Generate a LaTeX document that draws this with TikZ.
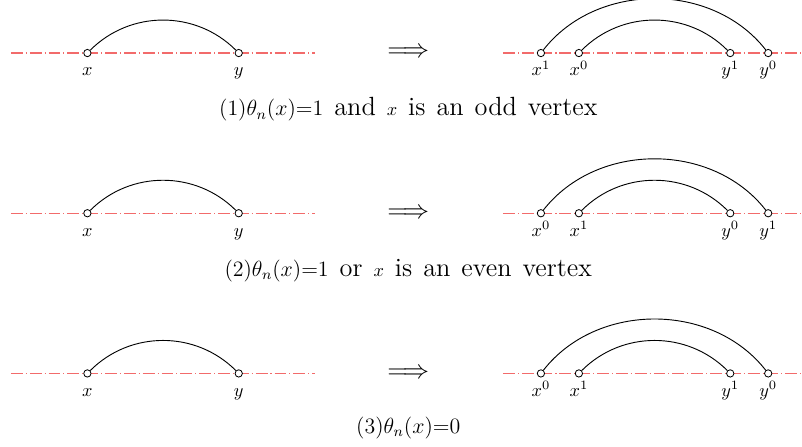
\documentclass[tikz,border=0pt]{standalone}
\usetikzlibrary{positioning}
\definecolor{axisred}{rgb}{0.95,0.42,0.42}
\newcommand\widespaces{\spaceskip=6pt\relax}
\tikzset{
  vertex/.style={circle, draw, fill=white, inner sep=0pt, minimum size=4pt, line width=0.45pt},
  vlabel/.style={anchor=base, font=\normalsize},
  axis/.style={draw=axisred, line width=0.7pt, dash pattern=on 6.5pt off 1.6pt on 0.6pt off 1.6pt},
  link/.style={line width=0.5pt},
  impl/.style={font=\Large},
  captext/.style={anchor=base, font=\normalsize},
}

\begin{document}
\begin{tikzpicture}
  \useasboundingbox (0,0) rectangle (15.42,8.58);
  % the dash-dotted lines, two per row, in one path
  \draw[axis] (0.21,7.56) -- (6.06,7.56)  (9.67,7.56) -- (15.42,7.56)
              (0.21,4.48) -- (6.06,4.48)  (9.67,4.48) -- (15.42,4.48)
              (0.21,1.40) -- (6.06,1.40)  (9.67,1.40) -- (15.42,1.40);
  % one row per case: left graph, arrow, right graph, caption
  \foreach \i/\yrow/\ycap/\lxa/\lxb/\lya/\lyb/\capt in {
      1/7.56/6.35/x^1/x^0/y^1/y^0/{{\large$(1)\theta_n(x)$=1} {\Large and} $x$ {\Large is an odd vertex}},
      2/4.48/3.27/x^0/x^1/y^0/y^1/{{\large$(2)\theta_n(x)$=1} {\Large or} $x$ {\Large is an even vertex}},
      3/1.40/0.25/x^0/x^1/y^1/y^0/{{\large$(3)\theta_n(x)$=0}}} {
    % left: one edge x -- y
    \node[vertex] (x\i) at (1.68,\yrow) {};
    \node[vertex] (y\i) at (4.59,\yrow) {};
    \draw[link] (x\i) to[out=45, in=135] (y\i);
    \node[vlabel] (lx\i) at ([yshift=-0.44cm]x\i.center) {$x$};
    \node[vlabel] (ly\i) at ([yshift=-0.44cm]y\i.center) {$y$};
    % arrow
    \node[impl] (imp\i) at (7.85,\yrow) {$\Longrightarrow$};
    % right: two nested edges
    \node[vertex] (a\i) at (10.40,\yrow) {};
    \node[vertex] (b\i) at (11.13,\yrow) {};
    \node[vertex] (c\i) at (14.04,\yrow) {};
    \node[vertex] (d\i) at (14.77,\yrow) {};
    \draw[link] (a\i) to[out=52, in=128] (d\i);
    \draw[link] (b\i) to[out=45, in=135] (c\i);
    \node[vlabel] (la\i) at ([yshift=-0.44cm]a\i.center) {$\lxa$};
    \node[vlabel] (lb\i) at ([yshift=-0.44cm]b\i.center) {$\lxb$};
    \node[vlabel] (lc\i) at ([yshift=-0.44cm]c\i.center) {$\lya$};
    \node[vlabel] (ld\i) at ([yshift=-0.44cm]d\i.center) {$\lyb$};
    % caption
    \node[captext] (cap\i) at (7.85,\ycap) {\widespaces\capt};
  }
\end{tikzpicture}
\end{document}
